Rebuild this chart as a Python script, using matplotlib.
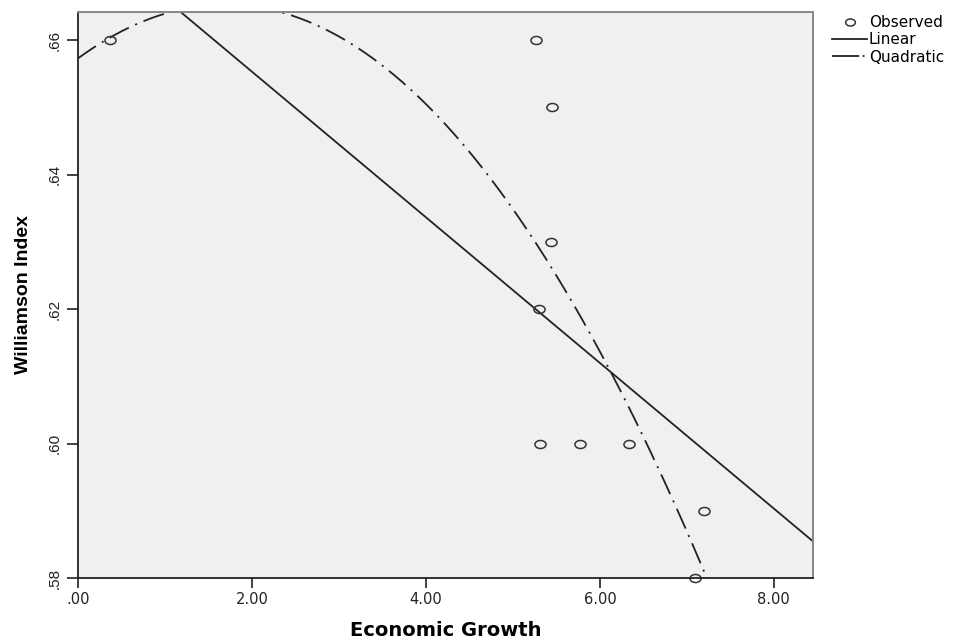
import numpy as np
import matplotlib
matplotlib.use("Agg")
import matplotlib.pyplot as plt
from matplotlib.lines import Line2D
from matplotlib.path import Path
from matplotlib.transforms import Affine2D

plt.rcParams['font.family'] = ['Liberation Sans', 'DejaVu Sans']

# Observed data (Economic Growth vs Williamson Index)
growth = [0.37, 5.26, 5.45, 5.44, 5.30, 5.31, 5.77, 6.34, 7.20, 7.09]
williamson = [0.66, 0.66, 0.65, 0.63, 0.62, 0.60, 0.60, 0.60, 0.59, 0.58]

x_ticks = [0, 2, 4, 6, 8]
x_ticklabels = ['.00', '2.00', '4.00', '6.00', '8.00']
y_ticks = [0.58, 0.60, 0.62, 0.64, 0.66]
y_ticklabels = ['.58', '.60', '.62', '.64', '.66']

# Fitted curves (least squares on the observed data)
lin_coef = np.polyfit(growth, williamson, 1)
quad_coef = np.polyfit(growth, williamson, 2)

# slightly wide open-ellipse marker (the reference is horizontally stretched)
circ = Path.unit_circle()
ellipse = Path(Affine2D().scale(1.38, 1.0).transform(circ.vertices), circ.codes)

fig = plt.figure(figsize=(9.55, 6.39), dpi=100)
ax = fig.add_axes([78/955, 1-578/639, (813-78)/955, (578-12)/639])
ax.set_facecolor('#f0f0f0')

xmin, xmax = 0.0, 8.45
ymin, ymax = 0.58, 0.6642
xs = np.linspace(xmin, xmax, 400)

quad_style = (0, (12, 3.9, 1.1, 3.9))
ax.plot(xs, np.polyval(lin_coef, xs), color='#222222', lw=1.3, label='Linear')
ax.plot(xs, np.polyval(quad_coef, xs), color='#222222', lw=1.3,
        linestyle=quad_style, label='Quadratic')
ax.plot(growth, williamson, linestyle='none', marker=ellipse, ms=8,
        mfc='none', mec='#333333', mew=1.1, label='Observed', clip_on=False)

ax.set_xlim(xmin, xmax)
ax.set_ylim(ymin, ymax)
ax.set_xticks(x_ticks)
ax.set_xticklabels(x_ticklabels, fontsize=10.5, color='#222222', family='DejaVu Sans')
ax.set_yticks(y_ticks)
ax.set_yticklabels(y_ticklabels, fontsize=11, rotation=90, va='center', color='#222222')
ax.tick_params(axis='x', length=7, width=1.3, color='#333333', pad=3)
ax.tick_params(axis='y', length=8, width=1.3, color='#333333', pad=4)

for side in ['left', 'bottom']:
    ax.spines[side].set_color('#222222')
    ax.spines[side].set_linewidth(1.3)
for side in ['top', 'right']:
    ax.spines[side].set_color('#888888')
    ax.spines[side].set_linewidth(1.4)

ax.set_xlabel('Economic Growth', fontsize=14, fontweight='bold', family='DejaVu Sans')
ax.xaxis.set_label_coords(0.5, (578-630)/566)
ax.xaxis.label.set_va('center')
ax.set_ylabel('Williamson Index', fontsize=14, fontweight='bold')
ax.yaxis.set_label_coords((24-78)/735, 0.5)
ax.yaxis.label.set_va('center')

handles = [
    Line2D([], [], linestyle='none', marker=ellipse, ms=7, mfc='none', mec='#333333', mew=1.1),
    Line2D([], [], color='#222222', lw=1.3),
    Line2D([], [], color='#222222', lw=1.3, linestyle=(0, (15, 2, 1, 6))),
]
fig.legend(handles, ['Observed', 'Linear', 'Quadratic'], loc='upper left',
           bbox_to_anchor=(832/955, 1-15/639), frameon=False,
           prop={'family': 'DejaVu Sans', 'size': 11},
           handlelength=2.3, handletextpad=0.1, labelspacing=0.15, borderpad=0,
           borderaxespad=0)

fig.savefig('out.png', dpi=100, facecolor='white')
